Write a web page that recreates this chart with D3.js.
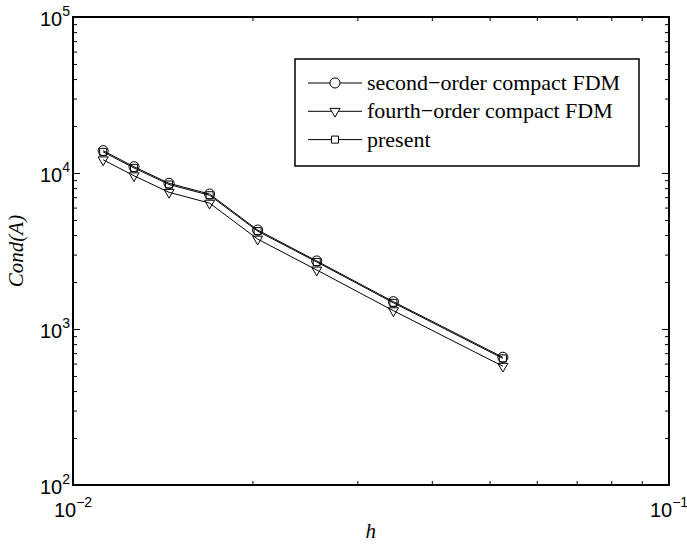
<!DOCTYPE html>
<html>
<head>
<meta charset="utf-8">
<script src="https://cdn.jsdelivr.net/npm/d3@7"></script>
<style>
  body { margin: 0; background: #fff; }
  svg { display: block; }
</style>
</head>
<body>
<div id="chart"></div>
<script>
// grid spacing h = 1/N
const hValues = [1/89, 1/79, 1/69, 1/59, 1/49, 1/39, 1/29, 1/19];
const condSecond = [13900, 10970, 8590, 7330, 4310, 2730, 1496, 659];
const condFourth = [12150, 9600, 7520, 6410, 3770, 2390, 1310, 577];
const condPresent = [13650, 10780, 8440, 7200, 4240, 2690, 1472, 648];
const seriesNames = ["second\u2212order compact FDM", "fourth\u2212order compact FDM", "present"];
const xMajor = [0.01, 0.1];
const yMajor = [1e2, 1e3, 1e4, 1e5];

const width = 687, height = 546;
const margin = { top: 17, right: 18, bottom: 61, left: 73 };
const innerW = width - margin.left - margin.right;
const innerH = height - margin.top - margin.bottom;

const svg = d3.select("#chart").append("svg")
    .attr("width", width)
    .attr("height", height);

const g = svg.append("g")
    .attr("transform", `translate(${margin.left}, ${margin.top})`);

const x = d3.scaleLog().domain([0.01, 0.1]).range([0, innerW]);
const y = d3.scaleLog().domain([1e2, 1e5]).range([innerH, 0]);

// minor ticks 2..9 per decade
const xMinor = [];
for (let k = 2; k <= 9; k++) xMinor.push(k * 0.01);
const yMinor = [];
[1e2, 1e3, 1e4].forEach(d => { for (let k = 2; k <= 9; k++) yMinor.push(k * d); });

function styleAxis(sel) {
    sel.select(".domain").remove();
    sel.selectAll("line").attr("stroke", "#000").attr("stroke-width", 1);
}

// Axes with inward ticks, mirrored on top and right
g.append("g").attr("transform", `translate(0, ${innerH})`)
    .call(d3.axisBottom(x).tickValues(xMajor).tickSize(-7).tickFormat(""))
    .call(styleAxis);
g.append("g").attr("transform", `translate(0, ${innerH})`)
    .call(d3.axisBottom(x).tickValues(xMinor).tickSize(-4).tickFormat(""))
    .call(styleAxis);
g.append("g")
    .call(d3.axisTop(x).tickValues(xMajor).tickSize(-7).tickFormat(""))
    .call(styleAxis);
g.append("g")
    .call(d3.axisTop(x).tickValues(xMinor).tickSize(-4).tickFormat(""))
    .call(styleAxis);
g.append("g")
    .call(d3.axisLeft(y).tickValues(yMajor).tickSize(-7).tickFormat(""))
    .call(styleAxis);
g.append("g")
    .call(d3.axisLeft(y).tickValues(yMinor).tickSize(-4).tickFormat(""))
    .call(styleAxis);
g.append("g").attr("transform", `translate(${innerW}, 0)`)
    .call(d3.axisRight(y).tickValues(yMajor).tickSize(-7).tickFormat(""))
    .call(styleAxis);
g.append("g").attr("transform", `translate(${innerW}, 0)`)
    .call(d3.axisRight(y).tickValues(yMinor).tickSize(-4).tickFormat(""))
    .call(styleAxis);

// frame
g.append("rect")
    .attr("width", innerW)
    .attr("height", innerH)
    .attr("fill", "none")
    .attr("stroke", "#000")
    .attr("stroke-width", 2);

// Tick labels as 10^n
function powerLabel(sel, v) {
    const e = Math.round(Math.log10(v));
    sel.append("tspan").text("10");
    sel.append("tspan")
        .attr("dy", -10)
        .style("font-size", "14px")
        .text(e < 0 ? "\u2212" + (-e) : String(e));
}

xMajor.forEach(v => {
    g.append("text")
        .attr("x", x(v))
        .attr("y", innerH + 32)
        .attr("text-anchor", "middle")
        .style("font-family", "'Liberation Sans', Arial, sans-serif")
        .style("font-size", "20px")
        .call(powerLabel, v);
});

yMajor.forEach(v => {
    g.append("text")
        .attr("x", -3)
        .attr("y", y(v) + 9)
        .attr("text-anchor", "end")
        .style("font-family", "'Liberation Sans', Arial, sans-serif")
        .style("font-size", "20px")
        .call(powerLabel, v);
});

// Axis labels
svg.append("text")
    .attr("x", margin.left + x(0.0316))
    .attr("y", 538)
    .attr("text-anchor", "middle")
    .style("font-family", "'Liberation Serif', 'Times New Roman', serif")
    .style("font-style", "italic")
    .style("font-size", "21px")
    .text("h");

svg.append("text")
    .attr("transform", `translate(23, ${margin.top + innerH / 2}) rotate(-90)`)
    .attr("text-anchor", "middle")
    .style("font-family", "'Liberation Serif', 'Times New Roman', serif")
    .style("font-style", "italic")
    .style("font-size", "21px")
    .text("Cond(A)");

// Series
const series = [
    { name: seriesNames[0], values: condSecond, symbol: d3.symbolCircle, size: 80, rotate: 0 },
    { name: seriesNames[1], values: condFourth, symbol: d3.symbolTriangle, size: 44, rotate: 180 },
    { name: seriesNames[2], values: condPresent, symbol: d3.symbolSquare, size: 50, rotate: 0 }
];

const line = d3.line()
    .x(d => x(d.h))
    .y(d => y(d.c));

series.forEach(s => {
    const pts = hValues.map((h, i) => ({ h: h, c: s.values[i] }));
    g.append("path")
        .datum(pts)
        .attr("fill", "none")
        .attr("stroke", "#000")
        .attr("stroke-width", 1)
        .attr("d", line);
    g.selectAll(null)
        .data(pts)
        .enter()
        .append("path")
        .attr("d", d3.symbol().type(s.symbol).size(s.size))
        .attr("transform", d => `translate(${x(d.h)}, ${y(d.c)}) rotate(${s.rotate})`)
        .attr("fill", "none")
        .attr("stroke", "#000")
        .attr("stroke-width", 1);
});

// Legend
const legend = svg.append("g").attr("transform", "translate(295, 59)");
legend.append("rect")
    .attr("width", 344)
    .attr("height", 107)
    .attr("fill", "#fff")
    .attr("stroke", "#000")
    .attr("stroke-width", 1.5);

series.forEach((s, i) => {
    const ly = 24 + i * 28.3;
    legend.append("line")
        .attr("x1", 13).attr("x2", 67)
        .attr("y1", ly).attr("y2", ly)
        .attr("stroke", "#000")
        .attr("stroke-width", 1);
    legend.append("path")
        .attr("d", d3.symbol().type(s.symbol).size(s.size))
        .attr("transform", `translate(40, ${ly}) rotate(${s.rotate})`)
        .attr("fill", "#fff")
        .attr("stroke", "#000")
        .attr("stroke-width", 1);
    legend.append("text")
        .attr("x", 72)
        .attr("y", ly + 7)
        .style("font-family", "'Liberation Serif', 'Times New Roman', serif")
        .style("font-size", "22px")
        .text(s.name);
});
</script>
</body>
</html>
